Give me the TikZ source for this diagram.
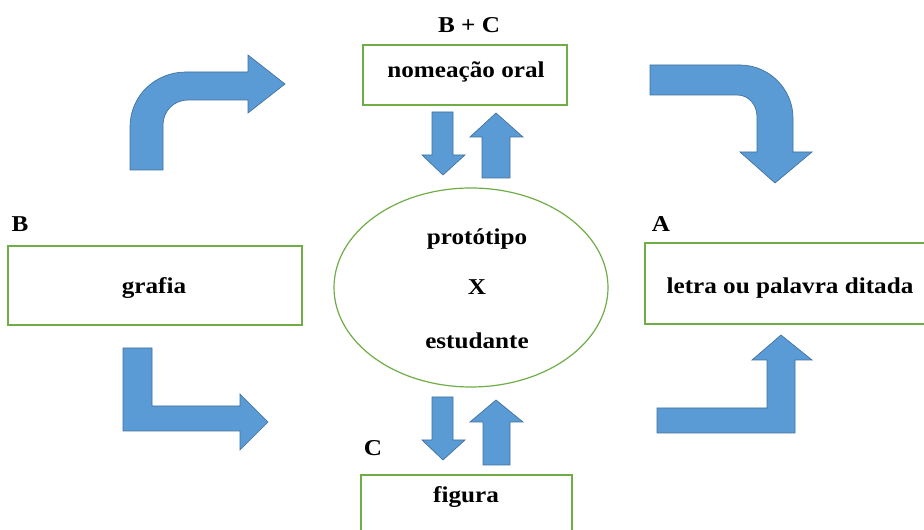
\documentclass[tikz,border=0pt]{standalone}
\usepackage{fontspec}
\setmainfont{Liberation Serif}[FakeStretch=1.11]
\usetikzlibrary{shapes.geometric}
\definecolor{arrowblue}{RGB}{91,155,213}
\definecolor{arrowedge}{RGB}{65,113,156}
\definecolor{boxgreen}{RGB}{112,173,71}
\begin{document}
\begin{tikzpicture}[x=0.75pt,y=-0.75pt,
  font=\fontsize{17}{20}\selectfont\bfseries,
  blockarrow/.style={fill=arrowblue, draw=arrowedge, line width=0.5pt, line join=miter},
  greenbox/.style={draw=boxgreen, line width=1.1pt, rectangle, inner sep=0pt},
  txt/.style={inner sep=0pt}]
\useasboundingbox (0,0) rectangle (924,530);
\fill[white] (0,0) rectangle (924,530);

% boxes
\node[greenbox, minimum width=153pt, minimum height=45pt] (oral) at (465,75) {};
\node[txt] (oraltxt) at (466,72) {nomeação oral};
\node[greenbox, minimum width=220.5pt, minimum height=59.25pt] (grafia) at (155,285.5) {};
\node[txt] (grafiatxt) at (154,288) {grafia};
\node[greenbox, minimum width=210.75pt, minimum height=60.75pt] (letra) at (785.5,283.5) {};
\node[txt] (letratxt) at (790,288) {letra ou palavra ditada};
\node[greenbox, minimum width=158.25pt, minimum height=45pt] (figura) at (466.5,505) {};
\node[txt] (figuratxt) at (466,497) {figura};
\node[draw=boxgreen, line width=0.9pt, ellipse, inner sep=0pt, minimum width=205.5pt, minimum height=149.25pt] (proto) at (471,287.5) {};
\node[txt] (p1) at (477,239) {protótipo};
\node[txt] (p2) at (477,287) {X};
\node[txt] (p3) at (477,341) {estudante};

% labels
\node[txt] (lbc) at (469,25) {B + C};
\node[txt] (lb) at (20,224) {B};
\node[txt] (la) at (661,224) {A};
\node[txt] (lc) at (373,448) {C};

% top-left curved arrow
\draw[blockarrow] (130,170) -- (130,127) .. controls (130,96) and (155,72) .. (186,72)
  -- (248,72) -- (248,55) -- (285,84) -- (248,113) -- (248,100) -- (188,100)
  .. controls (174,100) and (163,111) .. (163,125) -- (163,170) -- cycle;

% top-right curved arrow
\draw[blockarrow] (650,65) -- (740,65) .. controls (769,65) and (793,89) .. (793,118)
  -- (793,152) -- (812,152) -- (775,183) -- (740,152) -- (757,152) -- (757,117)
  .. controls (757,105) and (749,95) .. (737,95) -- (650,95) -- cycle;

% bottom-left bent arrow
\draw[blockarrow] (123,348) -- (152,348) -- (152,406) -- (240,406) -- (240,394)
  -- (268,422) -- (240,450) -- (240,431) -- (123,431) -- cycle;

% bottom-right bent arrow
\draw[blockarrow] (657,408) -- (767,408) -- (767,360) -- (752,360) -- (781,335)
  -- (812,360) -- (795,360) -- (795,433) -- (657,433) -- cycle;

% small arrows top
\draw[blockarrow] (432,112) -- (453,112) -- (453,155) -- (465,155) -- (443,175)
  -- (422,155) -- (432,155) -- cycle;
\draw[blockarrow] (482,178) -- (482,137) -- (470,137) -- (496,113) -- (523,137)
  -- (510,137) -- (510,178) -- cycle;

% small arrows bottom
\draw[blockarrow] (432,397) -- (453,397) -- (453,440) -- (465,440) -- (443,460)
  -- (422,440) -- (432,440) -- cycle;
\draw[blockarrow] (483,465) -- (483,422) -- (470,422) -- (496,400) -- (523,422)
  -- (510,422) -- (510,465) -- cycle;
\end{tikzpicture}
\end{document}
